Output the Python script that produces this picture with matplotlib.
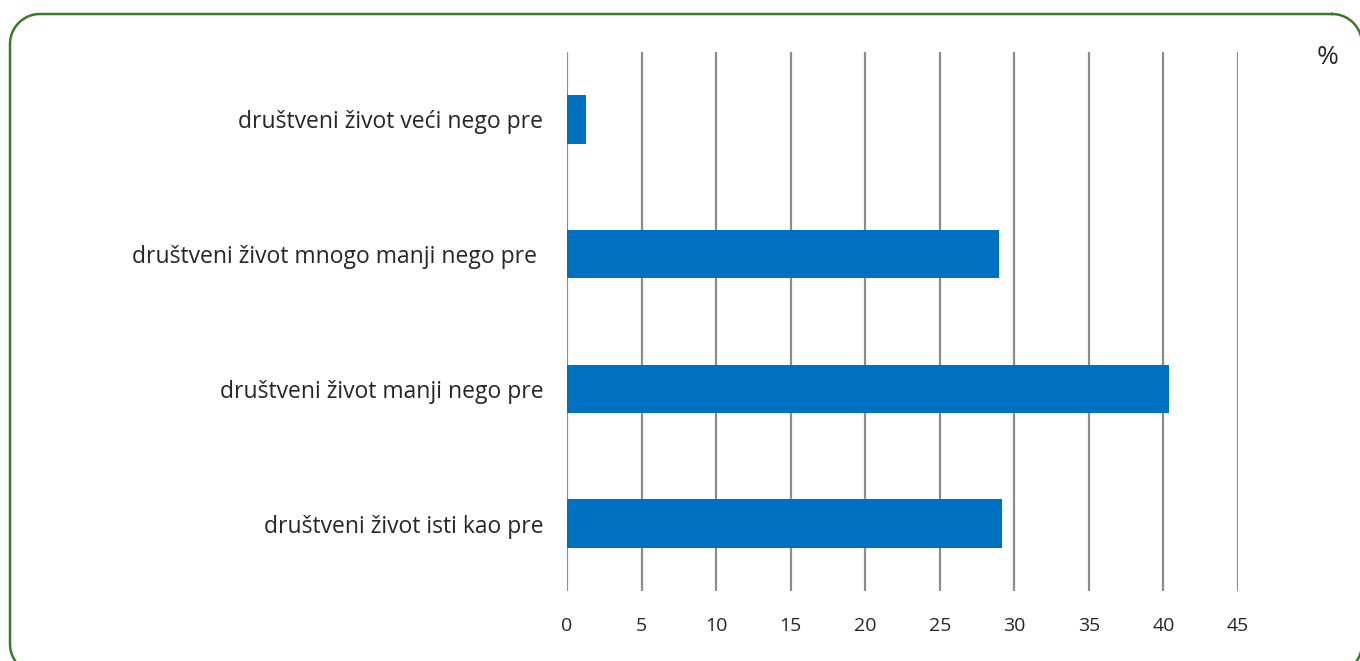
import numpy as np
import matplotlib.pyplot as plt

categories = [
    "društveni život veći nego pre",
    "društveni život mnogo manji nego pre ",
    "društveni život manji nego pre",
    "društveni život isti kao pre",
]
values = [1.3, 29.0, 40.4, 29.2]
xticks = [0, 5, 10, 15, 20, 25, 30, 35, 40, 45]

W, H = 1360, 661
fig = plt.figure(figsize=(W / 100, H / 100), dpi=100)
plt.rcParams["font.family"] = ["Open Sans", "DejaVu Sans"]


def rounded_rect(x0, y0, x1, y1, r, n=30):
    # outline of a rounded rectangle in pixel coords (y down)
    pts = []
    corners = [
        (x1 - r, y0 + r, -90, 0),
        (x1 - r, y1 - r, 0, 90),
        (x0 + r, y1 - r, 90, 180),
        (x0 + r, y0 + r, 180, 270),
    ]
    for cx, cy, a0, a1 in corners:
        t = np.radians(np.linspace(a0, a1, n))
        pts.append(np.column_stack([cx + r * np.cos(t), cy + r * np.sin(t)]))
    pts = np.vstack(pts)
    return np.vstack([pts, pts[:1]])


# background axes in pixel units for the rounded green frame
bg = fig.add_axes([0, 0, 1, 1], zorder=-1)
bg.set_xlim(0, W)
bg.set_ylim(H, 0)
bg.axis("off")
outline = rounded_rect(10, 14, 1362, 674, 30)
bg.plot(outline[:, 0], outline[:, 1], color="#3b7a2a", linewidth=1.8, clip_on=False)

ax = fig.add_axes([567 / W, (H - 591) / H, (1238 - 567) / W, (591 - 52) / H])
ax.patch.set_alpha(0)

y = list(range(len(categories)))
ax.barh(y, values, height=0.36, color="#0070c0", zorder=3)

ax.set_xlim(0, 45)
ax.set_ylim(len(categories) - 0.5, -0.5)
ax.set_xticks(xticks)
ax.set_xticklabels([str(t) for t in xticks], fontsize=14, color="#262626")
ax.set_yticks(y)
ax.set_yticklabels(categories, fontsize=16.5, color="#262626")
ax.tick_params(axis="x", length=0, pad=19)
ax.tick_params(axis="y", length=0, pad=17)
for s in ax.spines.values():
    s.set_visible(False)
ax.grid(axis="x", color="#8c8c8c", linewidth=1.6, zorder=0)
ax.set_axisbelow(True)

fig.text(1328 / W, 1 - 57 / H, "%", fontsize=19, ha="center", va="center", color="#262626")

fig.savefig("out.png", dpi=100)
